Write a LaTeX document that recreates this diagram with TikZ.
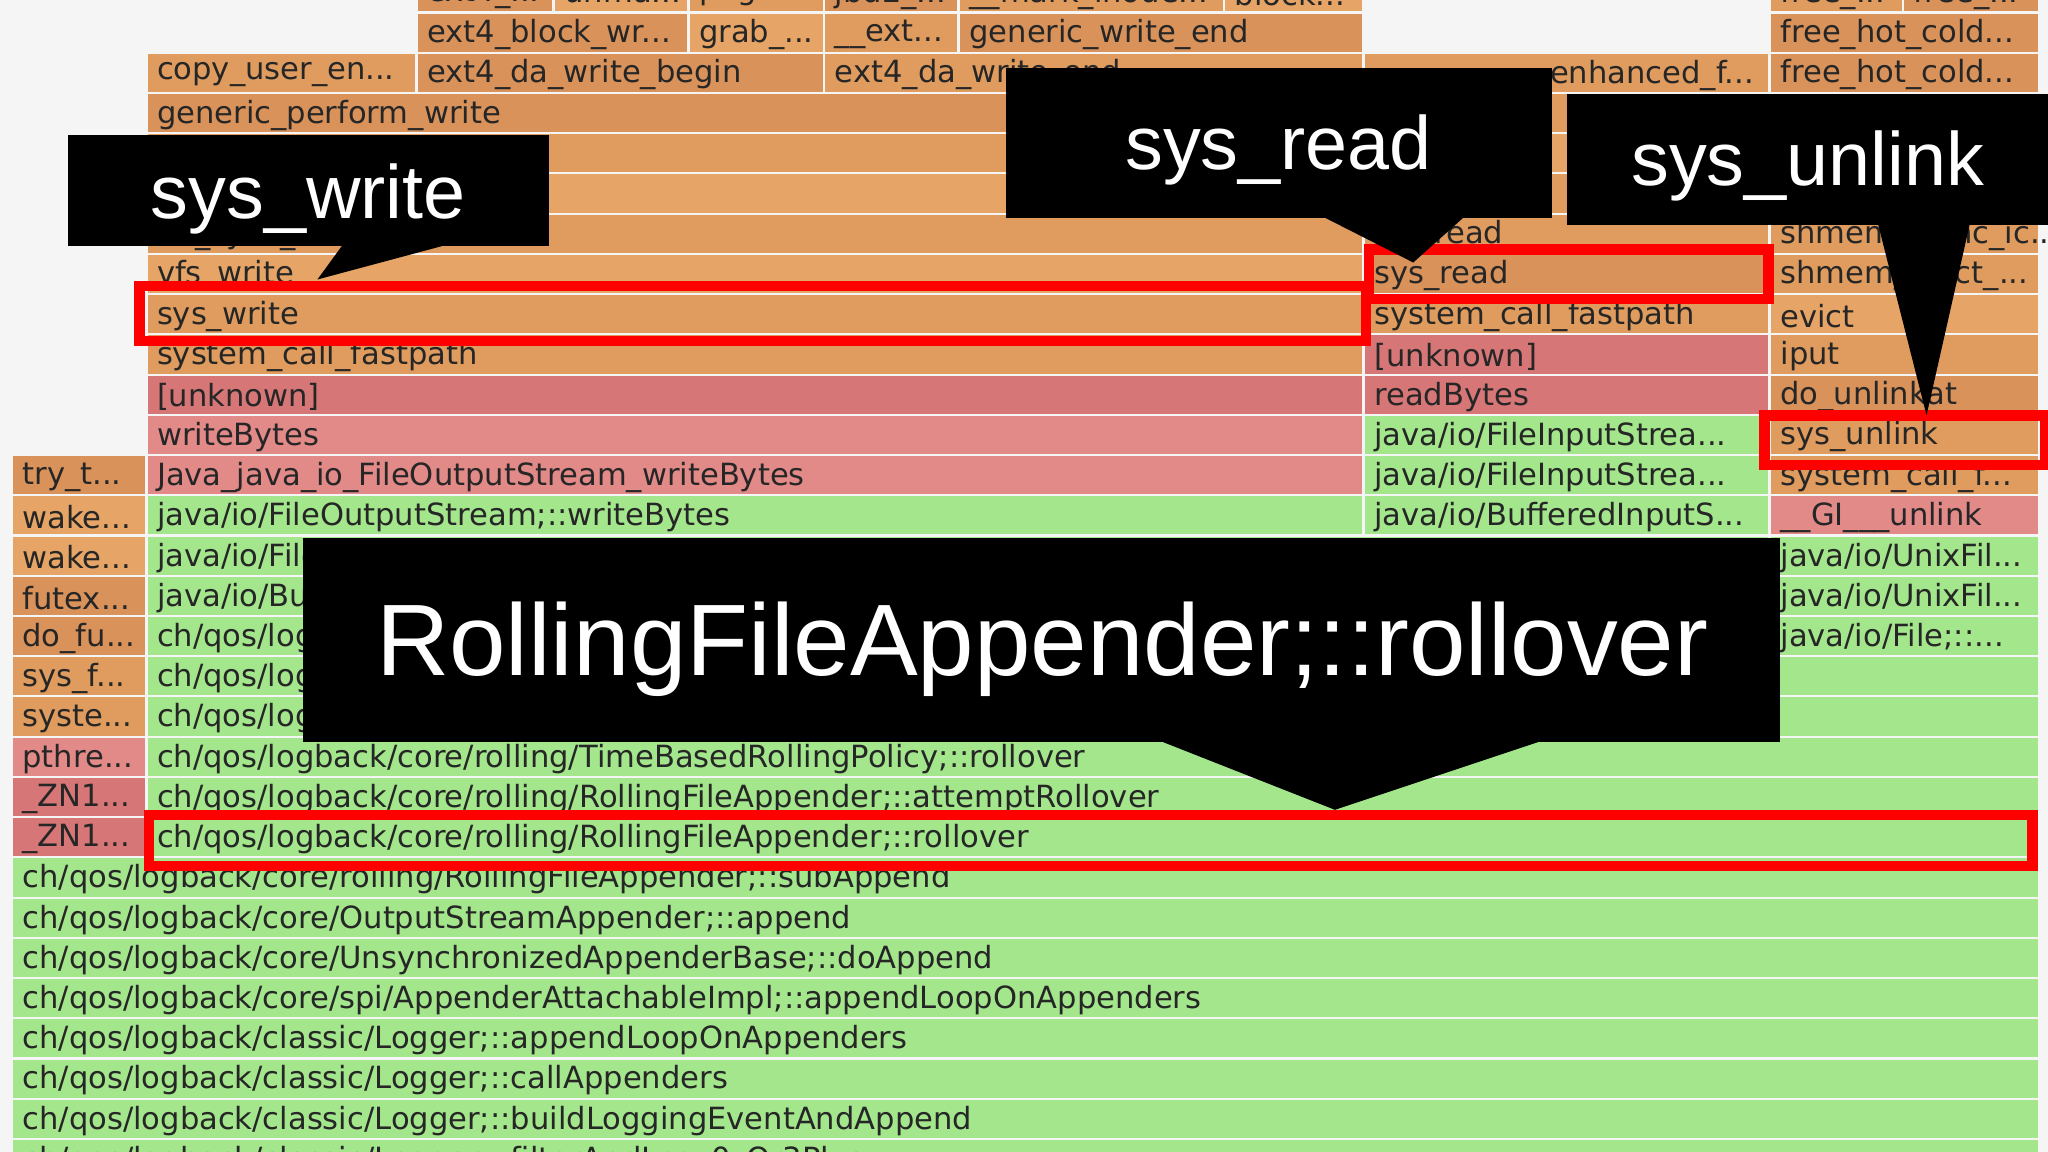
\documentclass[tikz,border=0pt]{standalone}
\usepackage{fontspec}
\setmainfont{Liberation Sans}
\newfontfamily\fgfont{DejaVu Sans}
\begin{document}
\begin{tikzpicture}[x=0.013061cm,y=-0.013061cm,
  fgt/.style={anchor=west,inner sep=1pt,font=\fgfont\fontsize{8.7}{9}\selectfont,text=black!85},
  fgte/.style={fgt,anchor=east},
  callout/.style={fill=black},
  ctext/.style={text=white,inner sep=0pt},
  hl/.style={draw=red,line width=3pt}]
\definecolor{bgc}{HTML}{F5F5F5}
\definecolor{oa}{HTML}{E09C5E}
\definecolor{ob}{HTML}{D8925A}
\definecolor{oc}{HTML}{E6A566}
\definecolor{rd}{HTML}{D67676}
\definecolor{pk}{HTML}{E28A88}
\definecolor{gr}{HTML}{A3E68C}
\newcommand\fgb[5]{%
  \pgfmathsetmacro\yc{25+30.8*#3}%
  \fill[#4] (#1,\yc-14.6) rectangle (#2,\yc+14.6);%
  \node[fgt] at (#1+4,\yc+1.5) {#5};}
\fill[bgc] (0,0) rectangle (1568,882);
\useasboundingbox (0,0) rectangle (1568,882);
% row -1
\fgb{320}{423}{-1}{ob}{ext4\_...}
\fgb{425}{526}{-1}{oc}{unma...}
\fgb{528}{630}{-1}{oa}{pagec...}
\fgb{632}{733}{-1}{ob}{jbd2\_...}
\fgb{735}{936}{-1}{oa}{\_\_mark\_inode...}
\fgb{938}{1043}{-1}{oc}{block...}
\fgb{1356}{1456}{-1}{oa}{free\_...}
\fgb{1458}{1560}{-1}{ob}{free\_...}
% row 0
\fgb{320}{526}{0}{ob}{ext4\_block\_wr...}
\fgb{528}{630}{0}{oc}{grab\_...}
\fgb{632}{733}{0}{oa}{\_\_ext...}
\fgb{735}{1043}{0}{ob}{generic\_write\_end}
\fgb{1356}{1560}{0}{ob}{free\_hot\_cold...}
% row 1
\fgb{113}{318}{1}{oa}{copy\_user\_en...}
\fgb{320}{630}{1}{ob}{ext4\_da\_write\_begin}
\fgb{632}{1043}{1}{oa}{ext4\_da\_write\_end}
\fill[oa] (1045,56-14.6) rectangle (1354,56+14.6);
\node[fgte] (enh) at (1346,57.5) {enhanced\_f...};
\fgb{1356}{1560}{1}{ob}{free\_hot\_cold...}
% row 2
\fgb{113}{1043}{2}{ob}{generic\_perform\_write}
\fgb{1045}{1354}{2}{oa}{}
\fgb{1356}{1560}{2}{oc}{}
% rows 3,4
\fgb{113}{1043}{3}{oa}{\_\_generic\_file\_write}
\fgb{1045}{1354}{3}{oc}{}
\fgb{1356}{1560}{3}{oa}{}
\fgb{113}{1043}{4}{oc}{ext4\_file\_write}
\fgb{1045}{1354}{4}{oa}{}
\fgb{1356}{1560}{4}{ob}{}
% row 5
\fgb{113}{1043}{5}{oa}{do\_sync\_write}
\fgb{1045}{1354}{5}{oa}{vfs\_read}
\fgb{1356}{1560}{5}{oa}{shmem\_trunc\_ic...}
% row 6
\fgb{113}{1043}{6}{oc}{vfs\_write}
\fgb{1045}{1354}{6}{ob}{sys\_read}
\fgb{1356}{1560}{6}{oa}{shmem\_evict\_...}
% row 7
\fgb{113}{1043}{7}{oa}{sys\_write}
\fgb{1045}{1354}{7}{oa}{system\_call\_fastpath}
\fgb{1356}{1560}{7}{oc}{evict}
% row 8
\fgb{113}{1043}{8}{oa}{system\_call\_fastpath}
\fgb{1045}{1354}{8}{rd}{[unknown]}
\fgb{1356}{1560}{8}{oa}{iput}
% row 9
\fgb{113}{1043}{9}{rd}{[unknown]}
\fgb{1045}{1354}{9}{rd}{readBytes}
\fgb{1356}{1560}{9}{ob}{do\_unlinkat}
% row 10
\fgb{113}{1043}{10}{pk}{writeBytes}
\fgb{1045}{1354}{10}{gr}{java/io/FileInputStrea...}
\fgb{1356}{1560}{10}{oa}{sys\_unlink}
% row 11
\fgb{10}{111}{11}{ob}{try\_t...}
\fgb{113}{1043}{11}{pk}{Java\_java\_io\_FileOutputStream\_writeBytes}
\fgb{1045}{1354}{11}{gr}{java/io/FileInputStrea...}
\fgb{1356}{1560}{11}{oa}{system\_call\_f...}
% row 12
\fgb{10}{111}{12}{oc}{wake...}
\fgb{113}{1043}{12}{gr}{java/io/FileOutputStream;::writeBytes}
\fgb{1045}{1354}{12}{gr}{java/io/BufferedInputS...}
\fgb{1356}{1560}{12}{pk}{\_\_GI\_\_\_unlink}
% row 13
\fgb{10}{111}{13}{oc}{wake...}
\fgb{113}{1354}{13}{gr}{java/io/FileOutputStream;::write}
\fgb{1356}{1560}{13}{gr}{java/io/UnixFil...}
% row 14
\fgb{10}{111}{14}{ob}{futex...}
\fgb{113}{1354}{14}{gr}{java/io/BufferedOutputStream;::flushBuffer}
\fgb{1356}{1560}{14}{gr}{java/io/UnixFil...}
% row 15
\fgb{10}{111}{15}{ob}{do\_fu...}
\fgb{113}{1354}{15}{gr}{ch/qos/logback/core/recovery/ResilientOutputStreamBase;::flush}
\fgb{1356}{1560}{15}{gr}{java/io/File;::...}
% row 16-17
\fgb{10}{111}{16}{oa}{sys\_f...}
\fgb{113}{1560}{16}{gr}{ch/qos/logback/core/OutputStreamAppender;::writeOut}
\fgb{10}{111}{17}{oa}{syste...}
\fgb{113}{1560}{17}{gr}{ch/qos/logback/core/rolling/RollingFileAppender;::renameByCopying}
% row 18-20
\fgb{10}{111}{18}{pk}{pthre...}
\fgb{113}{1560}{18}{gr}{ch/qos/logback/core/rolling/TimeBasedRollingPolicy;::rollover}
\fgb{10}{111}{19}{rd}{\_ZN1...}
\fgb{113}{1560}{19}{gr}{ch/qos/logback/core/rolling/RollingFileAppender;::attemptRollover}
\fgb{10}{111}{20}{rd}{\_ZN1...}
\fgb{113}{1560}{20}{gr}{ch/qos/logback/core/rolling/RollingFileAppender;::rollover}
% rows 21-28
\fgb{10}{1560}{21}{gr}{ch/qos/logback/core/rolling/RollingFileAppender;::subAppend}
\fgb{10}{1560}{22}{gr}{ch/qos/logback/core/OutputStreamAppender;::append}
\fgb{10}{1560}{23}{gr}{ch/qos/logback/core/UnsynchronizedAppenderBase;::doAppend}
\fgb{10}{1560}{24}{gr}{ch/qos/logback/core/spi/AppenderAttachableImpl;::appendLoopOnAppenders}
\fgb{10}{1560}{25}{gr}{ch/qos/logback/classic/Logger;::appendLoopOnAppenders}
\fgb{10}{1560}{26}{gr}{ch/qos/logback/classic/Logger;::callAppenders}
\fgb{10}{1560}{27}{gr}{ch/qos/logback/classic/Logger;::buildLoggingEventAndAppend}
\fgb{10}{1560}{28}{gr}{ch/qos/logback/classic/Logger;::filterAndLog\_0\_Or3Plus}
% highlight boxes
\draw[hl] (107,219) rectangle (1046,261);
\draw[hl] (1048,191) rectangle (1354,229);
\draw[hl] (1351,318) rectangle (1566,356);
\draw[hl] (114,624) rectangle (1556,663);
% callouts
\fill[callout] (52,103) rectangle (420,188);
\fill[callout] (262,188) -- (340,188) -- (243,214) -- cycle;
\node[ctext,font=\fontsize{21.5}{24}\selectfont] (cw) at (236,152) {sys\_write};
\fill[callout] (770,52) rectangle (1188,167);
\fill[callout] (1015,167) -- (1120,167) -- (1082,201) -- cycle;
\node[ctext,font=\fontsize{21.5}{24}\selectfont] (cr) at (979,115) {sys\_read};
\fill[callout] (1200,72) rectangle (1568,172);
\fill[callout] (1438,172) -- (1508,172) -- (1475,318) -- cycle;
\node[ctext,font=\fontsize{21.5}{24}\selectfont] (cu) at (1384,127) {sys\_unlink};
\fill[callout] (232,412) rectangle (1363,568);
\fill[callout] (890,568) -- (1178,568) -- (1022,620) -- cycle;
\node[ctext,font=\fontsize{28.9}{32}\selectfont] (cro) at (798,497) {RollingFileAppender;::rollover};
\end{tikzpicture}
\end{document}
